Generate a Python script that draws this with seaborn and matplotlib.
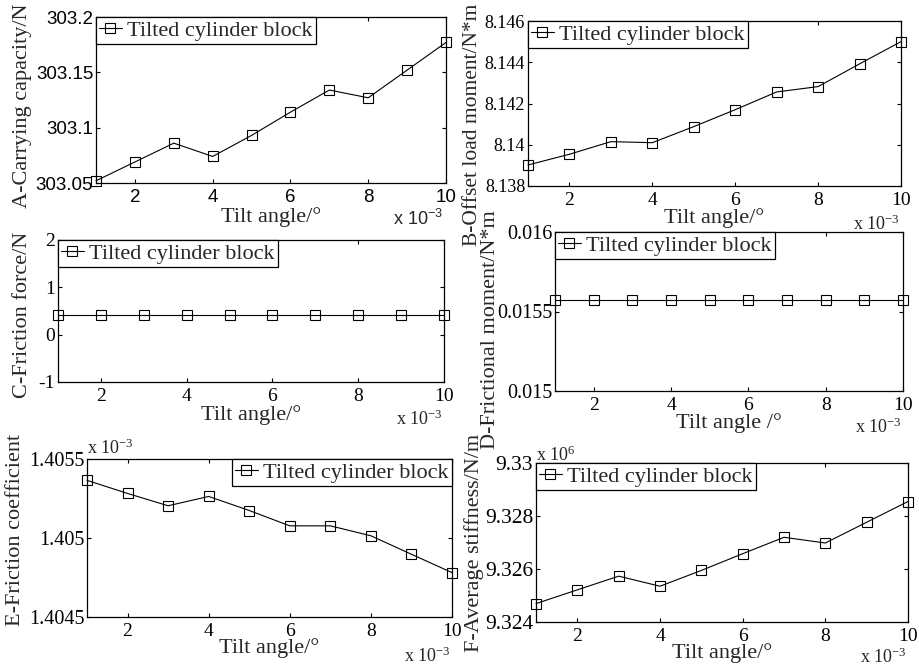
import numpy as np
import pandas as pd
import matplotlib
matplotlib.use("Agg")
import matplotlib.pyplot as plt
import seaborn as sns
from matplotlib.ticker import FuncFormatter, FixedLocator

# ---------------- data ----------------
tilt_angle = [0.001, 0.002, 0.003, 0.004, 0.005, 0.006, 0.007, 0.008, 0.009, 0.010]
x_ticks = [0.002, 0.004, 0.006, 0.008, 0.010]

carrying_capacity = [303.052, 303.069, 303.086, 303.074, 303.093,
                     303.114, 303.134, 303.127, 303.152, 303.177]
offset_load_moment = [8.13902, 8.13954, 8.14015, 8.14010, 8.14088,
                      8.14170, 8.14256, 8.14282, 8.14392, 8.14500]
friction_force = [0.41, 0.41, 0.41, 0.41, 0.41, 0.41, 0.41, 0.41, 0.41, 0.41]
frictional_moment = [0.01557, 0.01557, 0.01557, 0.01557, 0.01557,
                     0.01557, 0.01557, 0.01557, 0.01557, 0.01557]
friction_coefficient = [1.405365e-3, 1.405282e-3, 1.405204e-3, 1.405263e-3, 1.405174e-3,
                        1.405077e-3, 1.405077e-3, 1.405014e-3, 1.404897e-3, 1.404781e-3]
average_stiffness = [9.324695e6, 9.325213e6, 9.325730e6, 9.325350e6, 9.325945e6,
                     9.326577e6, 9.327196e6, 9.326981e6, 9.327764e6, 9.328547e6]

ticks_a = [303.05, 303.1, 303.15, 303.2]
ticks_b = [8.138, 8.140, 8.142, 8.144, 8.146]
ticks_c = [-1, 0, 1, 2]
ticks_d = [0.015, 0.0155, 0.016]
ticks_e = [1.4045e-3, 1.405e-3, 1.4055e-3]
ticks_f = [9.324e6, 9.326e6, 9.328e6, 9.330e6]

series_label = "Tilted cylinder block"

# ---------------- style ----------------
sns.set_style("ticks")
plt.rcParams["font.family"] = ["Liberation Serif", "DejaVu Serif"]
plt.rcParams.update({
    "xtick.direction": "in", "ytick.direction": "in",
    "xtick.top": True, "ytick.right": True,
    "xtick.major.size": 3, "ytick.major.size": 3,
    "xtick.major.width": 0.8, "ytick.major.width": 0.8,
    "axes.linewidth": 0.9, "axes.edgecolor": "black",
    "xtick.color": "black", "ytick.color": "black",
    "mathtext.default": "regular",
})

W, H = 919, 670
fig = plt.figure(figsize=(W / 100, H / 100), dpi=100)


def rect(l, r, t, b):
    return [l / W, 1 - b / H, (r - l) / W, (b - t) / H]


panels = [
    dict(values=carrying_capacity, yticks=ticks_a, scale=1.0,
         ylabel="A-Carrying capacity/N", xlabel="Tilt angle/\u00b0", ylabsize=16,
         box=(96, 446, 17, 183), tickfont="Liberation Sans", xts=13.5, yts=13.5,
         ylab=(-0.211, 0.466), xlab=-0.235, xexp=(0.991, -0.253), yexp=None,
         legend="upper left"),
    dict(values=offset_load_moment, yticks=ticks_b, scale=1.0,
         ylabel="B-Offset load moment/N*m", xlabel="Tilt angle/\u00b0", ylabsize=15.5,
         box=(528, 901, 21, 186), tickfont="Liberation Serif", xts=14, yts=13,
         ylab=(-0.150, 0.370), xlab=-0.224, xexp=(0.997, -0.267), yexp=None,
         legend="upper left"),
    dict(values=friction_force, yticks=ticks_c, scale=1.0,
         ylabel="C-Friction force/N", xlabel="Tilt angle/\u00b0", ylabsize=16,
         box=(58, 444, 240, 382), tickfont="Liberation Serif", xts=14, yts=14,
         ylab=(-0.092, 0.472), xlab=-0.268, xexp=(0.997, -0.303), yexp=None,
         legend="upper left"),
    dict(values=frictional_moment, yticks=ticks_d, scale=1.0,
         ylabel="D-Frictional moment/N*m", xlabel="Tilt angle /\u00b0", ylabsize=16,
         box=(555, 903, 232, 391), tickfont="Liberation Serif", xts=14, yts=14.5,
         ylab=(-0.184, 0.384), xlab=-0.233, xexp=(0.997, -0.264), yexp=None,
         legend="upper left"),
    dict(values=friction_coefficient, yticks=ticks_e, scale=1e3,
         ylabel="E-Friction coefficient", xlabel="Tilt angle/\u00b0", ylabsize=16,
         box=(87, 452, 459, 617), tickfont="Liberation Serif", xts=14, yts=14.5,
         ylab=(-0.195, 0.551), xlab=-0.228, xexp=(0.995, -0.285),
         yexp=("x 10$^{-3}$", 1.032), legend="upper right"),
    dict(values=average_stiffness, yticks=ticks_f, scale=1e-6,
         ylabel="F-Average stiffness/N/m", xlabel="Tilt angle/\u00b0", ylabsize=16,
         box=(536, 908, 463, 622), tickfont="Liberation Serif", xts=14, yts=15.5,
         ylab=(-0.167, 0.497), xlab=-0.226, xexp=(0.997, -0.258),
         yexp=("x 10$^{6}$", 1.013), legend="upper left"),
]

for p in panels:
    ax = fig.add_axes(rect(*p["box"]))
    df = pd.DataFrame({"tilt": tilt_angle, "value": p["values"]})
    sns.lineplot(data=df, x="tilt", y="value", ax=ax, color="black",
                 linewidth=0.8, marker="s", markersize=6.5,
                 markerfacecolor="none", markeredgecolor="black",
                 markeredgewidth=0.8, label=series_label, clip_on=False)

    ax.set_xlim(tilt_angle[0], tilt_angle[-1])
    ax.set_ylim(p["yticks"][0], p["yticks"][-1])
    ax.xaxis.set_major_locator(FixedLocator(x_ticks))
    ax.yaxis.set_major_locator(FixedLocator(p["yticks"]))
    ax.xaxis.set_major_formatter(FuncFormatter(lambda v, _: "%g" % round(v * 1e3, 6)))
    sc = p["scale"]
    ax.yaxis.set_major_formatter(FuncFormatter(lambda v, _, sc=sc: "%g" % round(v * sc, 6)))
    ax.minorticks_off()
    ax.tick_params(axis="both", which="major", labelfontfamily=p["tickfont"])
    ax.tick_params(axis="x", pad=4, labelsize=p["xts"])
    ax.tick_params(axis="y", pad=2, labelsize=p["yts"])
    for s in ax.spines.values():
        s.set_visible(True)

    ax.set_xlabel(p["xlabel"], fontsize=16)
    ax.xaxis.label.set_va("baseline")
    ax.xaxis.set_label_coords(0.5, p["xlab"])
    ax.set_ylabel(p["ylabel"], fontsize=p["ylabsize"])
    ax.yaxis.label.set_va("center")
    ax.yaxis.set_label_coords(*p["ylab"])

    ax.text(p["xexp"][0], p["xexp"][1], "x 10$^{-3}$", transform=ax.transAxes,
            ha="right", va="baseline", fontsize=13, family=p["tickfont"])
    if p["yexp"] is not None:
        ax.text(0.0, p["yexp"][1], p["yexp"][0], transform=ax.transAxes,
                ha="left", va="baseline", fontsize=13, family=p["tickfont"])

    leg = ax.legend(loc=p["legend"], fontsize=16, frameon=True, fancybox=False,
                    framealpha=1, edgecolor="black", borderpad=0.15,
                    borderaxespad=0, handlelength=1.0, handletextpad=0.25)
    leg.get_frame().set_linewidth(0.9)
    leg.set_zorder(5)

fig.savefig("out.png", dpi=100)
